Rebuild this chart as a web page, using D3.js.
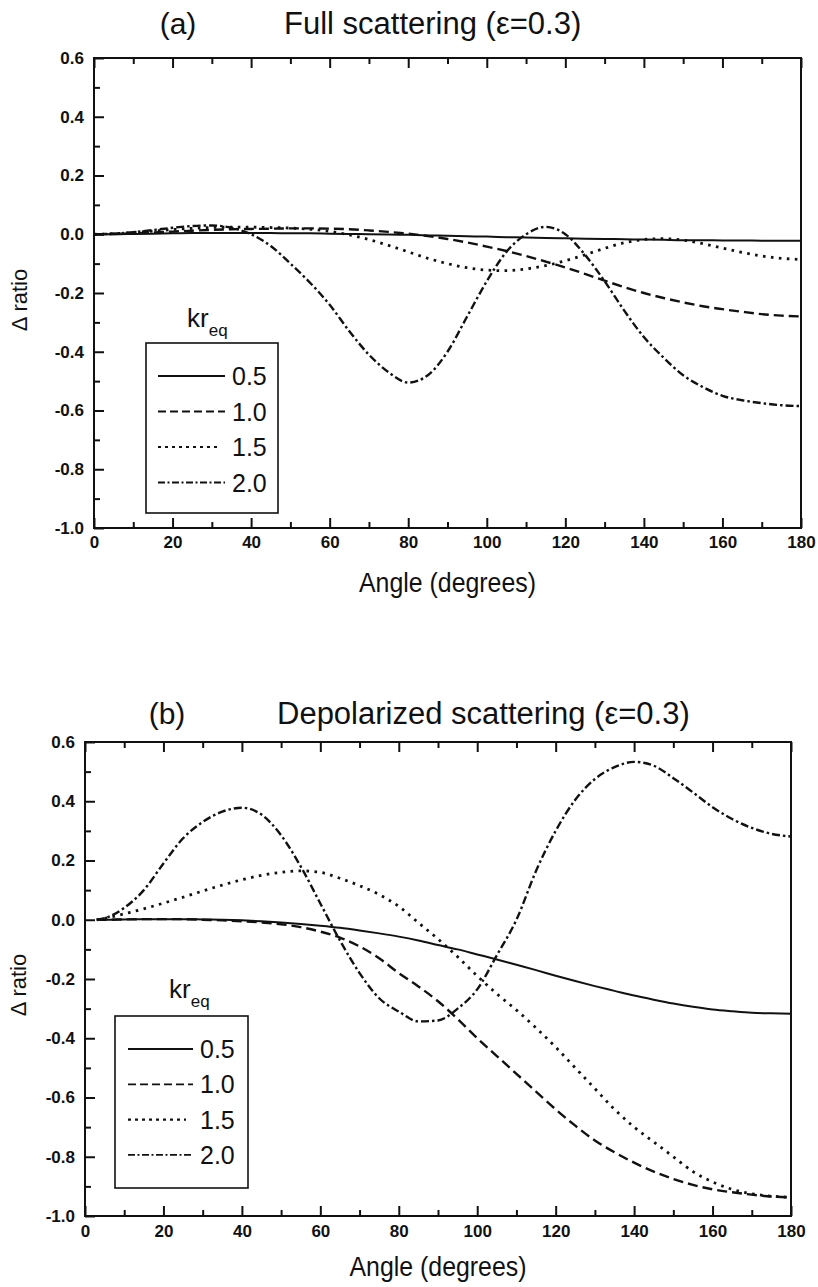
<!DOCTYPE html>
<html>
<head>
<meta charset="utf-8">
<script src="https://cdn.jsdelivr.net/npm/d3@7"></script>
<style>
  html, body { margin: 0; padding: 0; background: #fff; }
  svg { display: block; }
  text { font-family: "Liberation Sans", Arial, Helvetica, sans-serif; fill: #111; }
</style>
</head>
<body>
<svg id="fig" width="818" height="1287"></svg>
<script>
// ---- data -------------------------------------------------------------
// scattering angle grid (degrees)
const anglesFull  = d3.range(0, 181, 5);
const anglesDepol = [3].concat(d3.range(5, 181, 5));

const krLabels = ["0.5", "1.0", "1.5", "2.0"];

// (a) full scattering, Δ ratio for each kr_eq
const fullKr05 = [0,0,0.001,0.002,0.003,0.004,0.004,0.004,0.004,0.004,
  0.003,0.003,0.002,0.001,0,-0.001,-0.002,-0.004,-0.005,-0.007,
  -0.008,-0.01,-0.011,-0.013,-0.014,-0.015,-0.016,-0.017,-0.018,-0.019,
  -0.02,-0.02,-0.021,-0.021,-0.022,-0.022,-0.022];
const fullKr10 = [0,0.001,0.003,0.006,0.009,0.012,0.015,0.017,0.018,0.019,
  0.02,0.02,0.019,0.017,0.013,0.008,0.002,-0.006,-0.016,-0.028,
  -0.042,-0.057,-0.074,-0.093,-0.113,-0.135,-0.158,-0.18,-0.2,-0.217,
  -0.232,-0.245,-0.255,-0.264,-0.272,-0.277,-0.28];
const fullKr15 = [0,0.002,0.006,0.011,0.016,0.02,0.023,0.024,0.024,0.023,
  0.021,0.017,0.01,-0.002,-0.018,-0.038,-0.06,-0.082,-0.1,-0.114,
  -0.122,-0.124,-0.118,-0.107,-0.09,-0.07,-0.048,-0.029,-0.018,-0.015,
  -0.02,-0.032,-0.047,-0.062,-0.074,-0.082,-0.086];
const fullKr20 = [0,0.002,0.007,0.014,0.022,0.028,0.03,0.022,0,-0.04,
  -0.1,-0.165,-0.24,-0.33,-0.41,-0.47,-0.505,-0.48,-0.4,-0.28,
  -0.16,-0.06,0,0.025,0,-0.07,-0.16,-0.26,-0.35,-0.42,
  -0.48,-0.52,-0.55,-0.565,-0.575,-0.582,-0.585];

// (b) depolarized scattering, Δ ratio for each kr_eq
const depolKr05 = [0,0,0.001,0.002,0.002,0.002,0.001,0,-0.002,-0.005,
  -0.009,-0.014,-0.02,-0.027,-0.036,-0.046,-0.057,-0.07,-0.085,-0.1,
  -0.117,-0.134,-0.152,-0.17,-0.189,-0.207,-0.224,-0.24,-0.256,-0.27,
  -0.283,-0.294,-0.303,-0.309,-0.314,-0.316,-0.317];
const depolKr10 = [0,0,0.001,0.002,0.002,0.002,0,-0.002,-0.005,-0.009,
  -0.015,-0.025,-0.04,-0.06,-0.09,-0.13,-0.18,-0.225,-0.275,-0.335,
  -0.4,-0.46,-0.52,-0.58,-0.64,-0.695,-0.745,-0.785,-0.82,-0.85,
  -0.875,-0.895,-0.91,-0.92,-0.928,-0.934,-0.937];
const depolKr15 = [0,0.005,0.02,0.037,0.056,0.076,0.097,0.117,0.135,0.15,
  0.16,0.165,0.16,0.14,0.115,0.085,0.045,-0.01,-0.065,-0.125,
  -0.19,-0.25,-0.305,-0.365,-0.43,-0.5,-0.57,-0.64,-0.7,-0.75,
  -0.8,-0.85,-0.885,-0.91,-0.925,-0.933,-0.937];
const depolKr20 = [0,0.005,0.04,0.1,0.19,0.275,0.33,0.365,0.378,0.355,
  0.285,0.18,0.055,-0.07,-0.18,-0.265,-0.31,-0.343,-0.34,-0.3,
  -0.235,-0.12,0,0.165,0.3,0.405,0.475,0.515,0.533,0.52,
  0.478,0.43,0.38,0.34,0.31,0.29,0.281];

// axis ticks
const xTicks = [0, 20, 40, 60, 80, 100, 120, 140, 160, 180];
const xMinorTicks = [10, 30, 50, 70, 90, 110, 130, 150, 170];
const yTicks = [0.6, 0.4, 0.2, 0.0, -0.2, -0.4, -0.6, -0.8, -1.0];
const yMinorTicks = [0.5, 0.3, 0.1, -0.1, -0.3, -0.5, -0.7, -0.9];

// ---- styles -----------------------------------------------------------
const lineStyles = [
  { dash: null,          width: 2.0 },   // 0.5 solid
  { dash: "10,5",        width: 2.4 },   // 1.0 dashed
  { dash: "2.6,5.4",     width: 2.8 },   // 1.5 dotted
  { dash: "8,3,2.5,3",   width: 2.4 }    // 2.0 dash-dot
];
const legendDash = [null, "8,4", "3,4", "7,2.5,2,2.5"];

const svg = d3.select("#fig");

function drawPanel(p) {
  const g = svg.append("g");
  const x = d3.scaleLinear().domain([0, 180]).range([p.left, p.right]);
  const y = d3.scaleLinear().domain([-1.0, 0.6]).range([p.bottom, p.top]);

  // curves
  const line = d3.line()
    .x(d => x(d[0]))
    .y(d => y(d[1]))
    .curve(d3.curveMonotoneX);

  p.series.forEach((vals, i) => {
    const pts = p.angles.map((a, k) => [a, vals[k]]);
    g.append("path")
      .attr("d", line(pts))
      .attr("fill", "none")
      .attr("stroke", "#111")
      .attr("stroke-width", lineStyles[i].width)
      .attr("stroke-dasharray", lineStyles[i].dash);
  });

  // axes: ticks point into the frame
  const fmt = d => d.toFixed(1);
  const axB = g.append("g").attr("transform", `translate(0,${p.bottom})`)
    .call(d3.axisBottom(x).tickValues(xTicks).tickSizeInner(-10).tickSizeOuter(0)
      .tickPadding(p.xPad).tickFormat(d => String(d)));
  const axBm = g.append("g").attr("transform", `translate(0,${p.bottom})`)
    .call(d3.axisBottom(x).tickValues(xMinorTicks).tickSizeInner(-6).tickSizeOuter(0).tickFormat(""));
  const axT = g.append("g").attr("transform", `translate(0,${p.top})`)
    .call(d3.axisTop(x).tickValues(xTicks).tickSizeInner(-10).tickSizeOuter(0).tickFormat(""));
  const axTm = g.append("g").attr("transform", `translate(0,${p.top})`)
    .call(d3.axisTop(x).tickValues(xMinorTicks).tickSizeInner(-6).tickSizeOuter(0).tickFormat(""));
  const axL = g.append("g").attr("transform", `translate(${p.left},0)`)
    .call(d3.axisLeft(y).tickValues(yTicks).tickSizeInner(-10).tickSizeOuter(0)
      .tickPadding(10).tickFormat(fmt));
  const axLm = g.append("g").attr("transform", `translate(${p.left},0)`)
    .call(d3.axisLeft(y).tickValues(yMinorTicks).tickSizeInner(-6).tickSizeOuter(0).tickFormat(""));

  [axB, axBm, axT, axTm, axL, axLm].forEach(a => {
    a.select(".domain").remove();
    a.selectAll("line").attr("stroke", "#111").attr("stroke-width", 2);
    a.selectAll("text")
      .attr("fill", "#111")
      .style("font-family", '"Liberation Sans", Arial, sans-serif')
      .style("font-size", "17px")
      .style("font-weight", "bold");
  });

  // frame
  g.append("rect")
    .attr("x", p.left).attr("y", p.top)
    .attr("width", p.right - p.left).attr("height", p.bottom - p.top)
    .attr("fill", "none").attr("stroke", "#111").attr("stroke-width", 2);

  // titles
  g.append("text").attr("x", p.tagX).attr("y", p.titleY)
    .attr("text-anchor", "middle").style("font-size", "30px").text(p.tag);
  g.append("text").attr("x", p.titleX).attr("y", p.titleY)
    .style("font-size", "31px").text(p.title);

  // axis titles
  g.append("text").attr("x", (p.left + p.right) / 2).attr("y", p.bottom + p.xTitleOff)
    .attr("text-anchor", "middle").style("font-size", "27px")
    .attr("textLength", 177).attr("lengthAdjust", "spacingAndGlyphs")
    .text("Angle (degrees)");
  g.append("text")
    .attr("transform", `translate(${p.yTitleX},${p.yTitleY}) rotate(-90)`)
    .attr("text-anchor", "middle").style("font-size", "22px").text("Δ ratio");

  // legend
  const lg = p.legend;
  const kt = g.append("text").attr("x", lg.krX).attr("y", lg.krY).style("font-size", "26px");
  kt.append("tspan").text("kr");
  kt.append("tspan").attr("dy", 9).style("font-size", "17px").text("eq");

  g.append("rect")
    .attr("x", lg.x).attr("y", lg.y).attr("width", lg.w).attr("height", lg.h)
    .attr("fill", "#fff").attr("stroke", "#111").attr("stroke-width", 1.6);

  krLabels.forEach((lab, i) => {
    const ry = lg.rowY0 + i * lg.rowStep;
    g.append("line")
      .attr("x1", lg.lineX1).attr("x2", i === 2 ? lg.lineX2 - 7 : lg.lineX2)
      .attr("y1", ry).attr("y2", ry)
      .attr("stroke", "#111").attr("stroke-width", i === 2 ? 2.2 : 1.8)
      .attr("stroke-dasharray", legendDash[i]);
    g.append("text").attr("x", lg.textX).attr("y", ry + 9)
      .style("font-size", "25px").text(lab);
  });
}

drawPanel({
  left: 94, right: 801, top: 58, bottom: 528, xPad: 8, xTitleOff: 64,
  angles: anglesFull,
  series: [fullKr05, fullKr10, fullKr15, fullKr20],
  tag: "(a)", tagX: 178, title: "Full scattering (ε=0.3)", titleX: 284, titleY: 34,
  yTitleX: 27, yTitleY: 300,
  legend: { x: 146, y: 343, w: 132, h: 170, krX: 187, krY: 327,
            rowY0: 376, rowStep: 35.5, lineX1: 158, lineX2: 225, textX: 232 }
});

drawPanel({
  left: 85, right: 791, top: 742, bottom: 1216, xPad: 9, xTitleOff: 60,
  angles: anglesDepol,
  series: [depolKr05, depolKr10, depolKr15, depolKr20],
  tag: "(b)", tagX: 167, title: "Depolarized scattering (ε=0.3)", titleX: 277, titleY: 724,
  yTitleX: 26, yTitleY: 985,
  legend: { x: 115, y: 1016, w: 133, h: 172, krX: 169, krY: 998,
            rowY0: 1049, rowStep: 35.3, lineX1: 128, lineX2: 193, textX: 200 }
});
</script>
</body>
</html>
